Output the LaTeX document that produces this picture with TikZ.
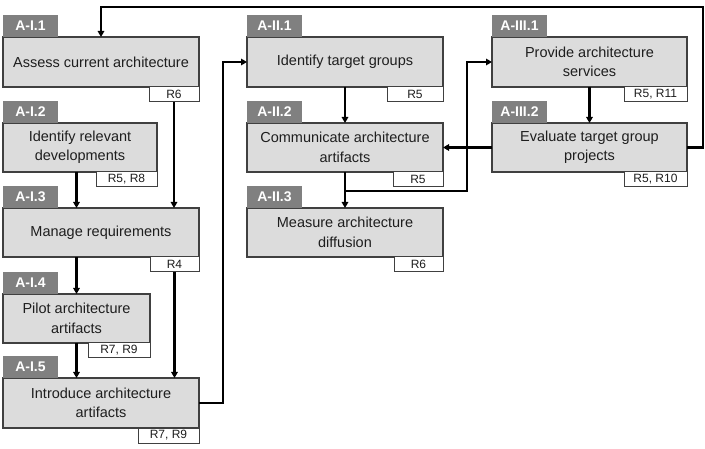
\documentclass[tikz,border=0pt]{standalone}
\usepackage{fontspec}
\setmainfont{Liberation Sans}
\usetikzlibrary{arrows.meta}
\definecolor{boxfill}{HTML}{DCDCDC}
\definecolor{boxline}{HTML}{404040}
\definecolor{tabfill}{HTML}{808080}
\definecolor{txt}{HTML}{1E1E1E}
\begin{document}
\begin{tikzpicture}[x=1pt,y=-1pt,
  box/.style={draw=boxline, fill=boxfill, line width=1.2pt, anchor=north west, outer sep=0pt, inner sep=2pt, align=center, text=txt, font=\fontsize{14.5}{19.5}\selectfont},
  tabbox/.style={fill=tabfill, anchor=south west, minimum width=55, minimum height=22, outer sep=0pt, inner sep=0pt, text=white, font=\bfseries\fontsize{14}{15}\selectfont},
  refbox/.style={draw=boxline, fill=white, line width=1pt, anchor=north east, minimum height=15, outer sep=0pt, inner sep=0pt, text=txt, font=\fontsize{12}{13}\selectfont},
  conn/.style={line width=2.5pt, black},
  arr/.style={conn, -{Triangle[length=6pt,width=6.5pt]}}
]
\useasboundingbox (0,0) rectangle (705,449);

% Column I
\node[box, minimum width=196, minimum height=50] (a11) at (3,37) {Assess current architecture};
\node[tabbox] (t11) at (a11.north west) {A-I.1};
\node[refbox, minimum width=50] (r11) at (a11.south east) {R6};

\node[box, minimum width=154, minimum height=49] (a12) at (3,123) {Identify relevant\\developments};
\node[tabbox] (t12) at (a12.north west) {A-I.2};
\node[refbox, minimum width=61] (r12) at (a12.south east) {R5, R8};

\node[box, minimum width=196, minimum height=49] (a13) at (3,208) {Manage requirements};
\node[tabbox] (t13) at (a13.north west) {A-I.3};
\node[refbox, minimum width=49] (r13) at (a13.south east) {R4};

\node[box, minimum width=147, minimum height=49] (a14) at (3,294) {Pilot architecture\\artifacts};
\node[tabbox] (t14) at (a14.north west) {A-I.4};
\node[refbox, minimum width=62] (r14) at (a14.south east) {R7, R9};

\node[box, minimum width=196, minimum height=50] (a15) at (3,378) {Introduce architecture\\artifacts};
\node[tabbox] (t15) at (a15.north west) {A-I.5};
\node[refbox, minimum width=61] (r15) at (a15.south east) {R7, R9};

% Column II
\node[box, minimum width=196, minimum height=50] (b1) at (247,37) {Identify target groups};
\node[tabbox] (tb1) at (b1.north west) {A-II.1};
\node[refbox, minimum width=56] (rb1) at (b1.south east) {R5};

\node[box, minimum width=196, minimum height=49] (b2) at (247,123) {Communicate architecture\\artifacts};
\node[tabbox] (tb2) at (b2.north west) {A-II.2};
\node[refbox, minimum width=50] (rb2) at (b2.south east) {R5};

\node[box, minimum width=196, minimum height=49] (b3) at (247,208) {Measure architecture\\diffusion};
\node[tabbox] (tb3) at (b3.north west) {A-II.3};
\node[refbox, minimum width=49] (rb3) at (b3.south east) {R6};

% Column III
\node[box, minimum width=195, minimum height=50] (c1) at (492,37) {Provide architecture\\services};
\node[tabbox] (tc1) at (c1.north west) {A-III.1};
\node[refbox, minimum width=63] (rc1) at (c1.south east) {R5, R11};

\node[box, minimum width=195, minimum height=49] (c2) at (492,123) {Evaluate target group\\projects};
\node[tabbox] (tc2) at (c2.north west) {A-III.2};
\node[refbox, minimum width=63] (rc2) at (c2.south east) {R5, R10};

% helper coordinates
\coordinate (ne) at (703,7);
\coordinate (j1) at (223,62);
\coordinate (j2) at (467,191);

% Connectors
\draw[arr] (c2.east) -| (ne) -| (a11.north);
\draw[arr] (r11.south) -- (r11.south |- a13.north);
\draw[arr] (a14.north |- a12.south) -- (a14.north |- a13.north);
\draw[arr] (a14.north |- a13.south) -- (a14.north);
\draw[arr] (a14.south) -- (a14.south |- a15.north);
\draw[arr] (r13.south) -- (r13.south |- a15.north);
\draw[arr] (a15.east) -| (j1) -- (b1.west);
\draw[arr] (b1.south) -- (b2.north);
\draw[arr] (b2.south) -- (b3.north);
\draw[arr] (b2.south |- j2) -- (j2) |- (c1.west);
\draw[arr] (c2.west) -- (b2.east);
\draw[arr] (c1.south) -- (c2.north);
\end{tikzpicture}
\end{document}
